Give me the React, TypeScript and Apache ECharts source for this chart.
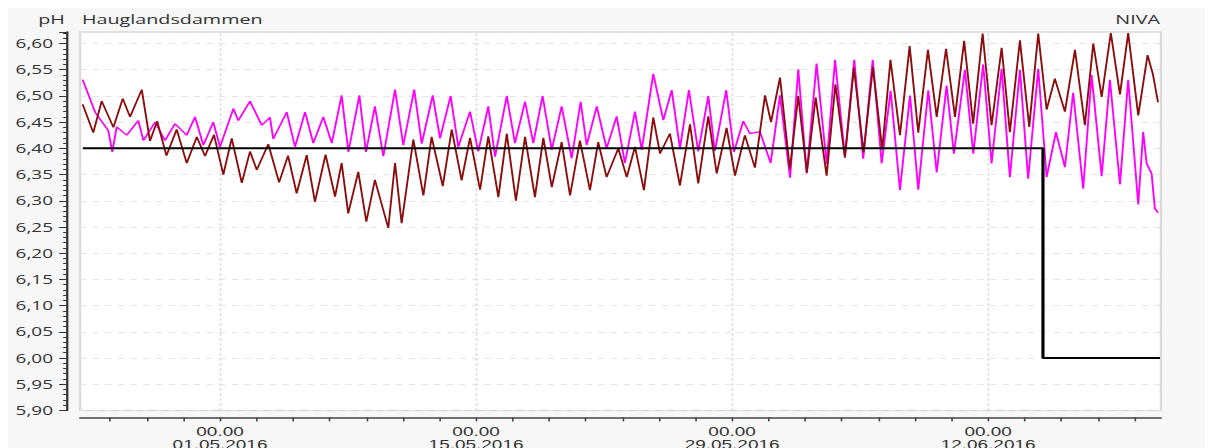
import React, { useEffect, useRef } from 'react';
import * as echarts from 'echarts';

// Day offsets are relative to 01.05.2016 00:00
const pinkDay = [-7.51,-6.83,-6.11,-5.89,-5.65,-5.10,-4.47,-4.19,-3.55,-3.01,
  -2.46,-1.82,-1.37,-0.91,-0.37,0,0.73,1.00,1.64,2.28,
  2.73,2.91,3.65,4.10,4.65,5.10,5.65,6.11,6.65,7.02,
  7.62,7.98,8.47,8.93,9.57,10.02,10.62,11.03,11.63,12.03,
  12.61,13.03,13.67,14.12,14.67,15.04,15.68,16.13,16.68,17.13,
  17.64,18.14,18.68,19.23,19.72,20.05,20.60,21.14,21.69,22.14,
  22.69,23.06,23.69,24.24,24.70,25.15,25.64,26.15,26.70,27.06,
  27.68,28.10,28.61,28.98,29.52,30.11,30.62,31.17,31.62,32.08,
  32.62,33.17,33.63,34.17,34.68,35.17,35.69,36.18,36.67,37.18,
  37.73,38.18,38.73,39.19,39.73,40.13,40.73,41.19,41.73,42.19,
  42.74,43.19,43.74,44.19,44.74,45.20,45.71,46.20,46.65,47.20,
  47.66,48.21,48.66,49.21,49.66,50.21,50.48,50.67,50.94,51.12,
  51.30];
const pinkPH = [6.531,6.469,6.434,6.393,6.441,6.425,6.453,6.415,6.450,6.415,
  6.447,6.425,6.460,6.406,6.450,6.403,6.476,6.453,6.490,6.444,
  6.459,6.418,6.469,6.403,6.469,6.410,6.460,6.410,6.501,6.393,
  6.501,6.393,6.480,6.385,6.512,6.406,6.512,6.409,6.501,6.419,
  6.500,6.403,6.470,6.394,6.480,6.384,6.500,6.410,6.489,6.410,
  6.500,6.397,6.480,6.381,6.489,6.406,6.480,6.400,6.461,6.372,
  6.470,6.397,6.542,6.454,6.511,6.400,6.511,6.394,6.500,6.395,
  6.511,6.393,6.452,6.428,6.432,6.372,6.501,6.344,6.551,6.352,
  6.562,6.370,6.569,6.385,6.569,6.380,6.569,6.371,6.510,6.320,
  6.501,6.321,6.511,6.354,6.520,6.390,6.550,6.390,6.560,6.371,
  6.552,6.345,6.550,6.342,6.552,6.345,6.431,6.364,6.506,6.323,
  6.540,6.347,6.531,6.331,6.531,6.293,6.431,6.371,6.352,6.285,
  6.277];

const redDay = [-7.51,-6.93,-6.47,-5.83,-5.32,-4.92,-4.28,-3.83,-3.44,-2.93,
  -2.37,-1.82,-1.27,-0.82,-0.33,0.18,0.64,1.19,1.64,2.01,
  2.64,3.23,3.72,4.19,4.74,5.19,5.77,6.29,6.65,7.01,
  7.56,8.00,8.47,9.20,9.57,9.93,10.57,11.12,11.57,12.18,
  12.67,13.21,13.67,14.22,14.67,15.22,15.68,16.18,16.68,17.22,
  17.68,18.14,18.68,19.14,19.68,20.23,20.68,21.14,21.78,22.24,
  22.69,23.18,23.69,24.06,24.60,25.15,25.70,26.15,26.70,27.16,
  27.70,28.16,28.70,29.25,29.80,30.13,30.62,31.16,31.62,32.09,
  32.57,33.17,33.65,34.17,34.66,35.19,35.70,36.21,36.66,37.18,
  37.71,38.18,38.71,39.19,39.70,40.19,40.69,41.18,41.70,42.19,
  42.74,43.19,43.74,44.25,44.74,45.20,45.65,46.20,46.75,47.29,
  47.75,48.21,48.71,49.21,49.66,50.21,50.72,51.02,51.29];
const redPH = [6.484,6.430,6.490,6.440,6.495,6.460,6.512,6.414,6.452,6.386,
  6.436,6.372,6.422,6.385,6.426,6.350,6.419,6.334,6.394,6.359,
  6.408,6.335,6.386,6.314,6.387,6.298,6.388,6.308,6.372,6.276,
  6.355,6.260,6.340,6.248,6.372,6.257,6.417,6.310,6.422,6.328,
  6.436,6.339,6.420,6.321,6.423,6.307,6.428,6.300,6.422,6.307,
  6.420,6.326,6.412,6.310,6.415,6.320,6.412,6.345,6.400,6.345,
  6.403,6.320,6.459,6.390,6.428,6.329,6.446,6.333,6.461,6.352,
  6.439,6.348,6.425,6.363,6.501,6.450,6.535,6.360,6.500,6.354,
  6.497,6.348,6.522,6.382,6.554,6.392,6.555,6.398,6.569,6.425,
  6.595,6.430,6.588,6.460,6.590,6.460,6.605,6.447,6.619,6.444,
  6.592,6.431,6.606,6.441,6.619,6.474,6.533,6.470,6.588,6.444,
  6.600,6.498,6.620,6.503,6.620,6.463,6.578,6.540,6.488];

const limitDay = [-7.5, 45, 45, 51.4];
const limitPH = [6.4, 6.4, 6.0, 6.0];

const tickDays = [-6,-4,-2,0,2,4,6,8,10,12,14,16,18,20,22,24,26,28,30,32,34,36,38,40,42,44,46,48,50];
const labelDays = [0, 14, 28, 42];
const dateLabels = ['01.05.2016', '15.05.2016', '29.05.2016', '12.06.2016'];

const S = 1.58; // horizontal stretch of the reference
const W = 763;
const H = 440;
const FONT = '"Open Sans", "Noto Sans", sans-serif';
const XFONT = '"Liberation Sans", Arial, sans-serif';

export default function App() {
  const ref = useRef<HTMLDivElement>(null);
  useEffect(() => {
    document.documentElement.style.overflow = 'hidden';
    const chart = echarts.init(ref.current as HTMLDivElement, null, { renderer: 'svg' });
    const toPairs = (xs: number[], ys: number[]) => xs.map((x, i) => [x, ys[i]]);
    chart.setOption({
      animation: false,
      backgroundColor: '#f7f7f7',
      textStyle: { fontFamily: FONT },
      grid: {
        left: 45.6, right: W - 729.7, top: 24, bottom: H - 402.4,
        outerBoundsMode: 'none', containLabel: false,
        show: true, backgroundColor: '#ffffff', borderColor: '#d9d9d9', borderWidth: 1.5,
      },
      xAxis: {
        type: 'value', min: -7.654, max: 51.45, offset: 7,
        axisLine: { show: true, onZero: false, lineStyle: { color: '#444', width: 1.5 } },
        axisTick: { show: true, customValues: tickDays, length: 4, lineStyle: { color: '#444', width: 1 } },
        axisLabel: {
          customValues: labelDays, color: '#333', fontSize: 12, lineHeight: 13, margin: 8, fontFamily: XFONT,
          formatter: (v: number) => {
            const i = labelDays.indexOf(Math.round(v));
            return i >= 0 ? '00.00\n' + dateLabels[i] : '';
          },
        },
        splitLine: { show: false },
      },
      yAxis: {
        type: 'value', min: 5.9, max: 6.622, interval: 0.05, offset: 8.2,
        axisLine: { show: true, onZero: false, lineStyle: { color: '#333', width: 1.4 } },
        axisTick: { show: true, length: 5, lineStyle: { color: '#333', width: 1 } },
        minorTick: { show: true, splitNumber: 5, length: 2.5, lineStyle: { color: '#333', width: 1 } },
        axisLabel: {
          formatter: (v: number) => v.toFixed(2).replace('.', ','),
          showMaxLabel: false, margin: 8.9, fontSize: 12, color: '#333', fontFamily: FONT,
        },
        splitLine: { show: true, lineStyle: { color: '#e4e4e4', type: [4, 4], width: 1 } },
      },
      graphic: [
        { type: 'text', x: 36, y: 11, style: { text: 'pH', align: 'right', verticalAlign: 'middle', fontSize: 12.5, fontFamily: FONT, fill: '#333' } },
        { type: 'text', x: 46.8, y: 11, style: { text: 'Hauglandsdammen', align: 'left', verticalAlign: 'middle', fontSize: 12.5, fontFamily: FONT, fill: '#333' } },
        { type: 'text', x: 729.1, y: 11, style: { text: 'NIVA', align: 'right', verticalAlign: 'middle', fontSize: 12.5, fontFamily: FONT, fill: '#333' } },
      ],
      series: [
        {
          type: 'line', data: toPairs(pinkDay, pinkPH), symbol: 'none', z: 2,
          lineStyle: { color: '#ff00ff', width: 1.2 },
          markLine: {
            silent: true, symbol: ['none', 'none'], z: 1, label: { show: false },
            lineStyle: { color: '#d0d0d0', type: [2, 3], width: 1 },
            data: labelDays.map((d) => ({ xAxis: d })),
          },
        },
        {
          type: 'line', data: toPairs(redDay, redPH), symbol: 'none', z: 3,
          lineStyle: { color: '#8b0d0d', width: 1.2 },
        },
        {
          type: 'line', data: toPairs(limitDay, limitPH), symbol: 'none', z: 4,
          lineStyle: { color: '#000000', width: 2 },
        },
      ],
    });
    return () => chart.dispose();
  }, []);
  return (
    <div
      ref={ref}
      style={{ width: W, height: H, transform: `scaleX(${S})`, transformOrigin: '0 0' }}
    />
  );
}
